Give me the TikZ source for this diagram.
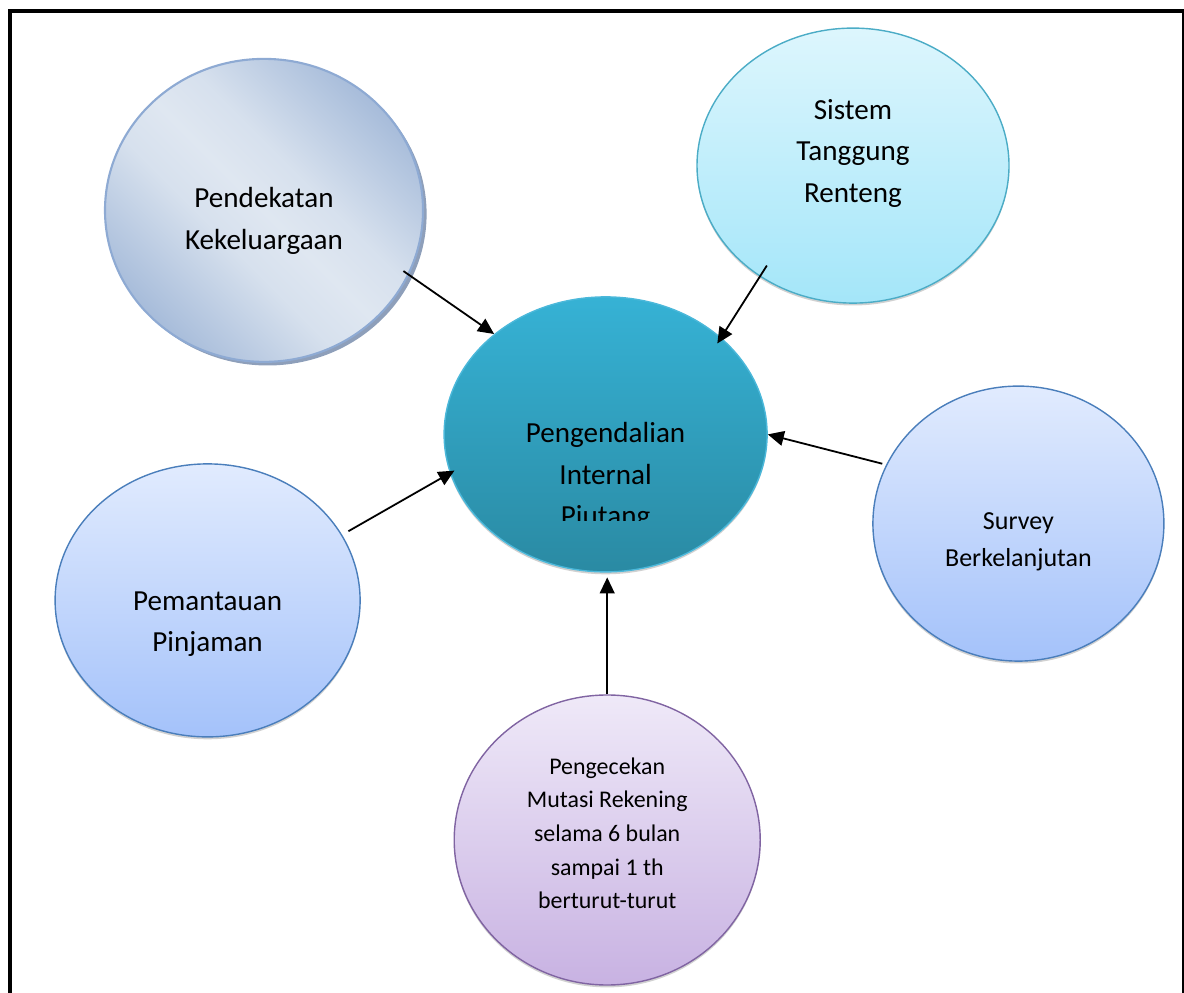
\documentclass[tikz,border=0pt]{standalone}
\usepackage{fontspec}
\setmainfont{Carlito}
\usepackage{tikz}
\usetikzlibrary{arrows.meta,%
                shapes.geometric,%
                shadows}

\definecolor{pendLight}{HTML}{DFE7F1}
\definecolor{pendDark}{HTML}{A7BCDA}
\definecolor{pendDraw}{HTML}{8EAAD3}
\definecolor{pendShadow}{HTML}{8295B2}
\definecolor{sisTop}{HTML}{DDF6FD}
\definecolor{sisBot}{HTML}{A4E6F9}
\definecolor{sisDraw}{HTML}{4BACC6}
\definecolor{pusTop}{HTML}{36B2D5}
\definecolor{pusBot}{HTML}{2A8AA3}
\definecolor{pusDraw}{HTML}{4BB8DA}
\definecolor{biruTop}{HTML}{E1EBFE}
\definecolor{biruBot}{HTML}{A4C2FA}
\definecolor{biruDraw}{HTML}{4A7EBB}
\definecolor{unguTop}{HTML}{EFE9F8}
\definecolor{unguBot}{HTML}{C8B2E2}
\definecolor{unguDraw}{HTML}{8064A2}

% pale across the middle, darker towards both ends
\pgfdeclareverticalshading{pendshade}{100bp}{color(0bp)=(pendDark); color(25bp)=(pendDark);
  color(34bp)=(pendDark!55!pendLight); color(42bp)=(pendDark!15!pendLight); color(50bp)=(pendLight);
  color(58bp)=(pendDark!15!pendLight); color(66bp)=(pendDark!55!pendLight); color(75bp)=(pendDark);
  color(100bp)=(pendDark)}

\newcommand{\txtbig}{\fontsize{20.7}{29.5}\selectfont}
\newcommand{\txtmid}{\fontsize{18.5}{26.3}\selectfont}
\newcommand{\txtsmall}{\fontsize{17}{23.9}\selectfont}

\begin{document}
\begin{tikzpicture}
		\useasboundingbox (0,0) rectangle (29.6,24.8);
		\clip (0,0) rectangle (29.6,24.8);
		% frame, open at the bottom
		\draw[line width=0.1cm] (0.25,-0.5) -- (0.25,24.525) -- (29.6,24.525) -- (29.6,-0.5);
		\tikzstyle{every node}=[font=\txtbig,align=center]
		\tikzset{VertexStyle/.style = {shape=ellipse,line width=1pt,inner sep=0pt}}
		\tikzset{SoftShadow/.style = {drop shadow={shadow xshift=0cm,shadow yshift=-0.06cm,fill=black,opacity=0.18}}}
		\node[VertexStyle,draw=pendDraw,line width=1.5pt,minimum width=7.95cm,minimum height=7.575cm,
			shading=pendshade,shading angle=-45,
			drop shadow={shadow xshift=0.09cm,shadow yshift=-0.09cm,fill=pendShadow,opacity=0.9},
			label={[yshift=-0.26cm]center:Pendekatan\\Kekeluargaan}] (pendekatan) at (6.6,19.54) {};
		\node[VertexStyle,SoftShadow,draw=sisDraw,minimum width=7.8cm,minimum height=6.875cm,
			top color=sisTop,bottom color=sisBot,
			label={[yshift=0.31cm]center:Sistem\\Tanggung\\Renteng}] (sistem) at (21.325,20.66) {};
		\node[VertexStyle,SoftShadow,draw=pusDraw,minimum width=8.075cm,minimum height=6.875cm,
			top color=pusTop,bottom color=pusBot] (pusat) at (15.14,13.94) {};
		{
			% the last line runs out of the text box
			\begin{scope}
			\clip (10,11.775) rectangle (20,18);
			\node[yshift=-1.06cm] (pusat-teks) at (pusat) {Pengendalian\\Internal\\Piutang};
			\end{scope}
		}
		\node[VertexStyle,SoftShadow,draw=biruDraw,minimum width=7.275cm,minimum height=6.875cm,
			top color=biruTop,bottom color=biruBot,
			label={[yshift=-0.45cm,font=\txtmid]center:Survey\\Berkelanjutan}] (survey) at (25.46,11.71) {};
		\node[VertexStyle,SoftShadow,draw=biruDraw,minimum width=7.625cm,minimum height=6.825cm,
			top color=biruTop,bottom color=biruBot,
			label={[yshift=-0.6cm]center:Pemantauan\\Pinjaman}] (pemantauan) at (5.19,9.79) {};
		\node[VertexStyle,SoftShadow,draw=unguDraw,minimum width=7.65cm,minimum height=7.25cm,
			top color=unguTop,bottom color=unguBot,
			label={[yshift=0.17cm,font=\txtsmall]center:Pengecekan\\Mutasi Rekening\\selama 6 bulan\\sampai 1 th\\berturut-turut}] (pengecekan) at (15.18,3.8) {};
		\tikzstyle{EdgeStyle}=[-{Triangle[length=0.4cm,width=0.37cm]},line width=0.045cm]
		\draw[EdgeStyle,shorten <=-0.17cm] (pendekatan.-24.8) -- (pusat.138.8);
		\draw[EdgeStyle,shorten <=-0.33cm,shorten >=-0.18cm] (sistem.-130.9) -- (pusat.40.5);
		\draw[EdgeStyle,shorten <=0.1cm] (survey.156.3) -- (pusat.-0.8);
		\draw[EdgeStyle,shorten <=0.18cm,shorten >=-0.13cm] (pemantauan.26.9) -- (pusat.-166.7);
		\draw[EdgeStyle,shorten >=0.12cm] (pengecekan.north) -- (pengecekan.north |- pusat.south);
	\end{tikzpicture}
\end{document}
